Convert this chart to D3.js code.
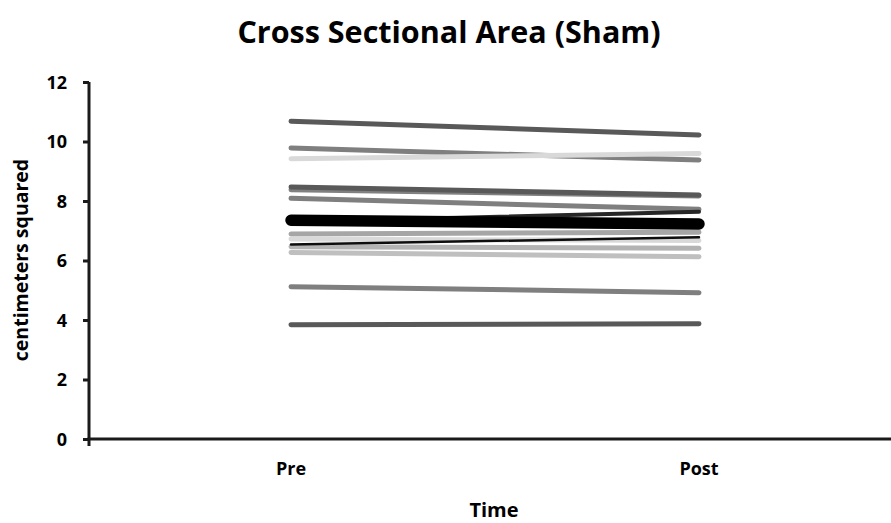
<!DOCTYPE html>
<html>
<head>
<meta charset="utf-8">
<script src="https://cdn.jsdelivr.net/npm/d3@7"></script>
<style>
  html, body { margin: 0; padding: 0; background: #fff; }
  svg { display: block; }
  text { font-family: "Open Sans", Lato, sans-serif; font-weight: bold; fill: #000; }
</style>
</head>
<body>
<svg id="chart" width="891" height="523"></svg>
<script>
// ---- data ----
const categories = ["Pre", "Post"];
const preValues  = [10.68, 9.78, 9.42, 8.38, 8.47, 8.09, 7.30, 6.89, 6.72, 6.46, 6.27, 6.54, 5.12, 3.84, 7.35];
const postValues = [10.22, 9.38, 9.60, 8.17, 8.20, 7.72, 7.64, 6.95, 6.67, 6.41, 6.13, 6.78, 4.92, 3.87, 7.23];
const yTicks = [0, 2, 4, 6, 8, 10, 12];
const titleText = "Cross Sectional Area (Sham)";
const xTitle = "Time";
const yTitle = "centimeters squared";

// ---- styles (one per series) ----
const seriesColors = ["#595959", "#7f7f7f", "#d9d9d9", "#808080", "#595959", "#7f7f7f", "#262626",
                      "#a6a6a6", "#d9d9d9", "#b3b3b3", "#bfbfbf", "#0d0d0d", "#7f7f7f", "#595959", "#000000"];
const seriesWidths = [5, 5, 5, 5, 5, 5, 4, 5, 5, 5, 5, 2.5, 5, 5, 11.5];

const svg = d3.select("#chart");
const mLeft = 89, mBottom = 439, mTop = 82;

const x = d3.scaleBand().domain(categories).range([87, 903]);
const y = d3.scaleLinear().domain([0, 12]).range([mBottom, mTop]);

// lines
const series = preValues.map((v, i) => ({ values: [v, postValues[i]], color: seriesColors[i], width: seriesWidths[i] }));
const line = d3.line()
  .x((d, i) => x(categories[i]) + x.bandwidth() / 2)
  .y(d => y(d));

svg.append("g").selectAll("path").data(series).join("path")
  .attr("d", d => line(d.values))
  .attr("fill", "none")
  .attr("stroke", d => d.color)
  .attr("stroke-width", d => d.width)
  .attr("stroke-linecap", "round");

// y axis
const yAxis = d3.axisLeft(y).tickValues(yTicks).tickSize(6).tickPadding(16).tickFormat(d3.format("d"));
const gy = svg.append("g").attr("transform", `translate(${mLeft},0)`).call(yAxis);
gy.select(".domain").attr("stroke", "#1a1a1a").attr("stroke-width", 3).attr("d", `M0,${mTop}V${mBottom + 7}`);
gy.selectAll(".tick line").attr("stroke", "#1a1a1a").attr("stroke-width", 3);
gy.selectAll(".tick text").style("font-size", "18px").attr("dy", "0.36em").attr("fill", "#000");

// x axis
const xAxis = d3.axisBottom(x).tickSize(0).tickPadding(23);
const gx = svg.append("g").attr("transform", `translate(0,${mBottom})`).call(xAxis);
gx.select(".domain").attr("stroke", "#1a1a1a").attr("stroke-width", 3).attr("d", `M${mLeft - 1.5},0H891`);
gx.selectAll(".tick text").style("font-size", "18px").attr("fill", "#000");

// titles
svg.append("text").attr("x", 449).attr("y", 43).attr("text-anchor", "middle")
  .style("font-size", "30.5px").text(titleText);
svg.append("text").attr("x", 494).attr("y", 517).attr("text-anchor", "middle")
  .style("font-size", "20px").text(xTitle);
svg.append("text").attr("transform", "translate(28,260) rotate(-90)").attr("text-anchor", "middle")
  .style("font-size", "19.5px").text(yTitle);
</script>
</body>
</html>
